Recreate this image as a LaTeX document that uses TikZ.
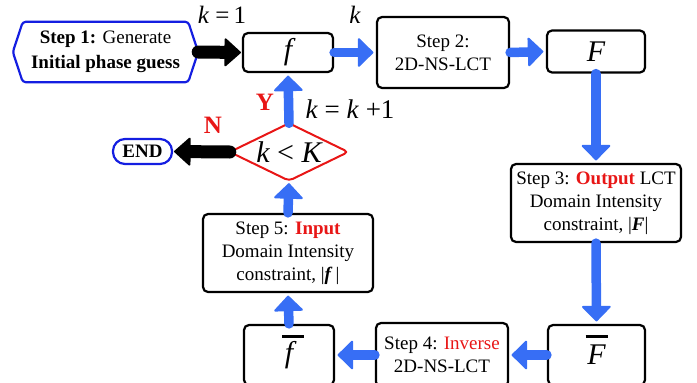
\documentclass[tikz,border=0pt]{standalone}
\usepackage{fontspec}
\setmainfont{Liberation Serif}
\usetikzlibrary{arrows.meta}
\definecolor{flowblue}{RGB}{55,110,245}
\definecolor{edgeblue}{RGB}{20,30,225}
\definecolor{alertred}{RGB}{232,22,22}
\newcommand{\fs}[1]{\fontsize{#1}{#1}\selectfont}
\begin{document}
\begin{tikzpicture}[x=1pt,y=-1pt,
  box/.style={draw, line width=2.2pt, rounded corners=5pt, align=center,
    font=\fontsize{19}{23}\selectfont, inner sep=0pt},
  symbox/.style={box, font=\fs{30}\itshape},
  flow/.style={flowblue, line width=9.5pt, line cap=round, shorten >=2.5pt,
    -{Triangle[width=31pt,length=16pt,line width=2pt,round]}},
  blackflow/.style={black, line width=13pt, line cap=round, shorten >=1pt,
    -{Triangle[width=30pt,length=17pt,line width=2pt,round]}},
  lbl/.style={inner sep=0pt},
  yn/.style={lbl, text=alertred, font=\fs{25}\bfseries},
  barline/.style={line width=3pt}
  ]
\useasboundingbox (0,0) rectangle (697,383);

% step 1 (hexagon) and the END terminal
\node[lbl, minimum width=185pt, minimum height=60pt, align=center,
  font=\fontsize{19}{25}\selectfont] (h) at (105.5,52)
  {\textbf{Step 1:} Generate\\\textbf{Initial phase guess}};
\draw[edgeblue, line width=2.2pt, rounded corners=3pt]
  ([xshift=10pt]h.north west) -- ([xshift=-10pt]h.north east) -- (h.east)
  -- ([xshift=-10pt]h.south east) -- ([xshift=10pt]h.south west) -- (h.west) -- cycle;
\node[draw=edgeblue, line width=2.2pt, rounded corners=12pt, minimum width=59pt,
  minimum height=25pt, inner sep=0pt, font=\fs{19}\bfseries] (end) at (142.5,151.5) {END};

% main loop
\node[symbox, minimum width=90pt, minimum height=39pt] (f) at (288,52.5) {f};
\node[box, minimum width=132pt, minimum height=71pt] (s2) at (443,52.5) {Step 2:\\2D-NS-LCT};
\node[symbox, minimum width=98pt, minimum height=42pt] (Fa) at (596,51.5) {F};
\node[box, minimum width=170pt, minimum height=78pt] (s3) at (596,203)
  {Step 3: \textcolor{alertred}{\textbf{Output}} LCT\\Domain Intensity\\constraint, |\textbf{\textit{F}}|};
\node[symbox, minimum width=97pt, minimum height=60pt] (Fb) at (596.5,355) {F};
\node[box, minimum width=132pt, minimum height=64pt] (s4) at (442,355)
  {Step 4: \textcolor{alertred}{Inverse}\\2D-NS-LCT};
\node[symbox, minimum width=90pt, minimum height=60pt] (fb) at (289,355) {f};
\node[box, minimum width=170pt, minimum height=78pt] (s5) at (288,253)
  {Step 5: \textcolor{alertred}{\textbf{Input}}\\Domain Intensity\\constraint, |\textbf{\textit{f}}\,|};

% bars over the reconstructed fields
\draw[barline] ([xshift=-11pt,yshift=19pt]Fb.center) -- ([xshift=11pt,yshift=19pt]Fb.center);
\draw[barline] ([xshift=-7pt,yshift=19pt]fb.center) -- ([xshift=15pt,yshift=19pt]fb.center);

% decision
\node[lbl, minimum width=118pt, minimum height=57pt, font=\fs{30}\itshape] (d) at (289,152) {k {\upshape<} K};
\draw[alertred, line width=2pt, rounded corners=4pt]
  (d.west) -- (d.north) -- (d.east) -- (d.south) -- cycle;

% connectors
\draw[blackflow] (h.east) -- (f.west);
\draw[flow] (f.east) -- (s2.west);
\draw[flow] (s2.east) -- (Fa.west);
\draw[flow] (Fa.south) -- (s3.north);
\draw[flow] (s3.south) -- (Fb.north);
\draw[flow] (Fb.west) -- (s4.east);
\draw[flow] (s4.west) -- (fb.east);
\draw[flow] (fb.north) -- (s5.south);
\draw[flow] (s5.north) -- (d.south);
\draw[flow] (d.north) -- (f.south);
\draw[blackflow] (d.west) -- (end.east);

% labels
\node[lbl, font=\fs{25}] (k1) at (222,15) {\textit{k} =\,1};
\node[lbl, font=\fs{25}] (k0) at (355,15) {\textit{k}};
\node[lbl, font=\fs{27}] (kk) at (350,109) {\textit{k} = \textit{k} +1};
\node[yn] (yes) at (265,102) {Y};
\node[yn] (no) at (213,125) {N};
\end{tikzpicture}
\end{document}
